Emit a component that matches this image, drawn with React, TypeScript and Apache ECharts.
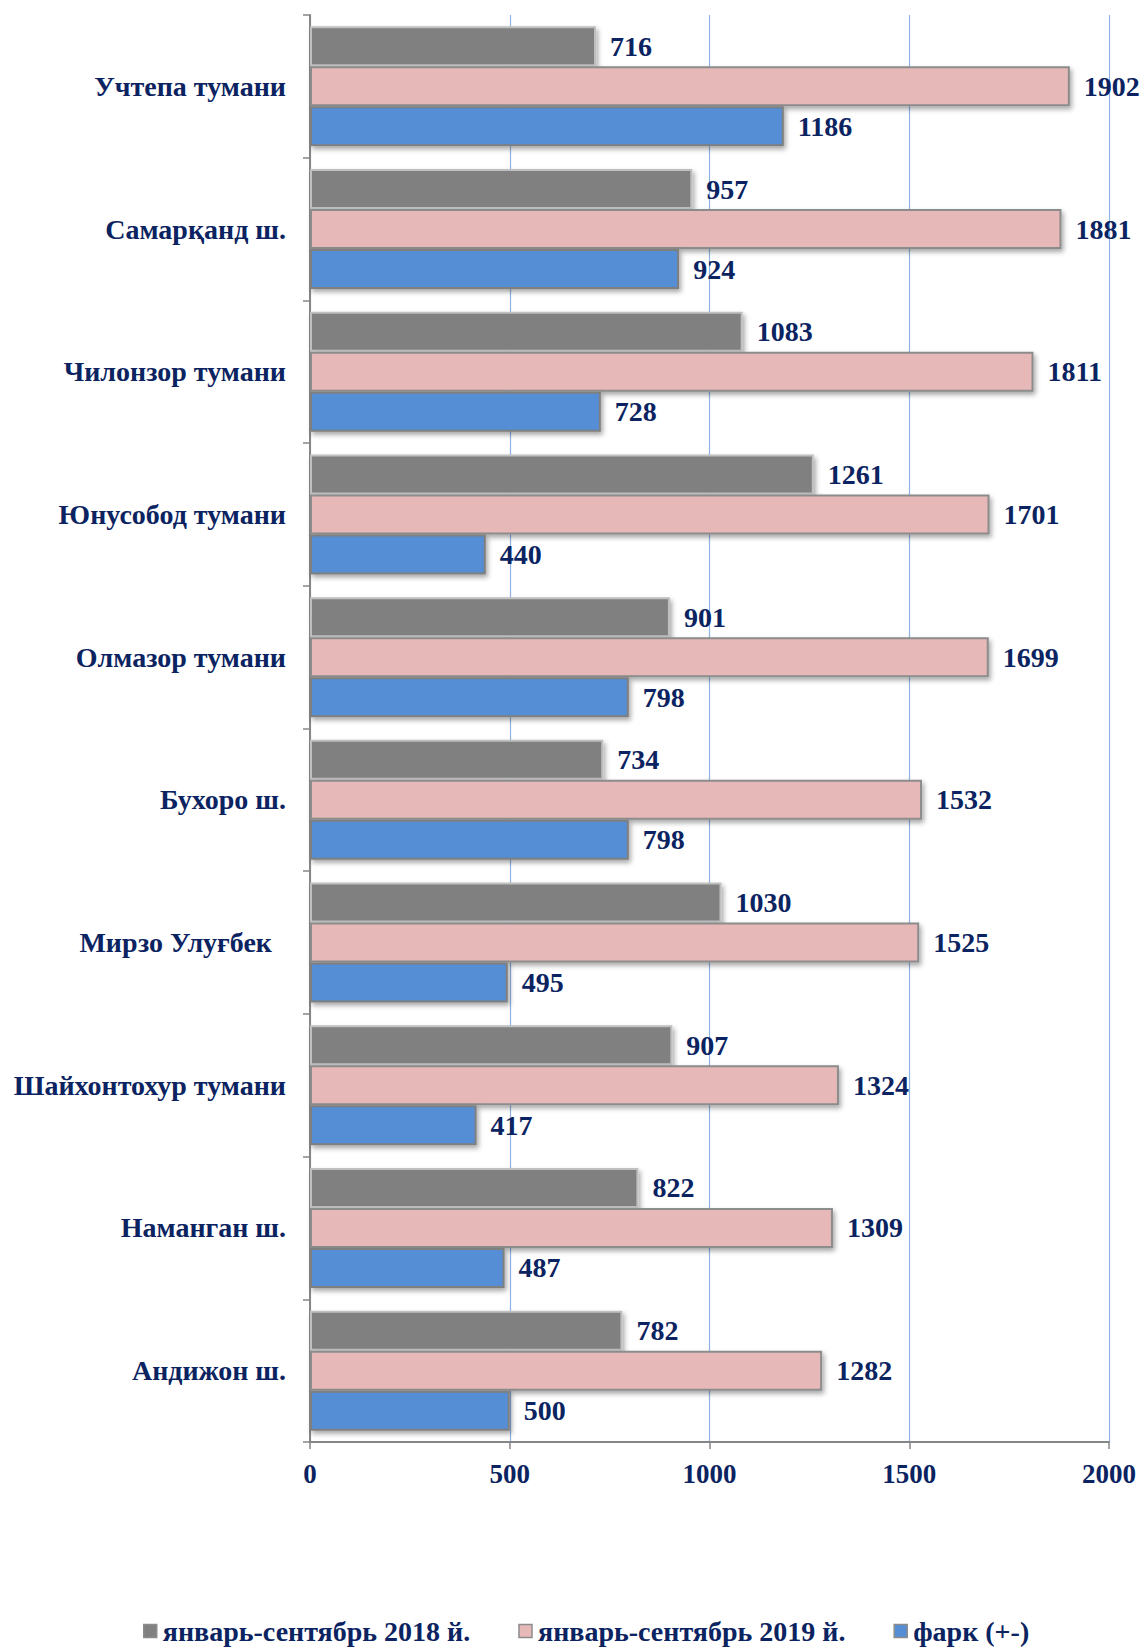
import React, { useEffect, useRef } from "react";
import * as echarts from "echarts";

const categories = [
  "Учтепа тумани",
  "Самарқанд ш.",
  "Чилонзор тумани",
  "Юнусобод тумани",
  "Олмазор тумани",
  "Бухоро ш.",
  "Мирзо Улуғбек\u00a0\u00a0",
  "Шайхонтохур тумани",
  "Наманган ш.",
  "Андижон ш.",
];
const seriesNames = ["январь-сентябрь 2018 й.", "январь-сентябрь 2019 й.", "фарк (+-)"];
const values2018 = [716, 957, 1083, 1261, 901, 734, 1030, 907, 822, 782];
const values2019 = [1902, 1881, 1811, 1701, 1699, 1532, 1525, 1324, 1309, 1282];
const valuesDiff = [1186, 924, 728, 440, 798, 798, 495, 417, 487, 500];
const xTicks = { min: 0, max: 2000, interval: 500 };

const NAVY = "#0B2461";
const FONT = "'Liberation Serif', 'Times New Roman', serif";

export default function App() {
  const ref = useRef<HTMLDivElement>(null);
  useEffect(() => {
    if (!ref.current) return;
    const chart = echarts.init(ref.current, null, { renderer: "svg" });
    const colors = ["#808080", "#E6B8B7", "#558ED5"];
    const borders = ["#BFBFBF", "#8C8C8C", "#7F7F7F"];
    const data = [values2018, values2019, valuesDiff];
    chart.setOption({
      animation: false,
      textStyle: { fontFamily: FONT },
      grid: { left: 310, right: 37, top: 15, bottom: 208, containLabel: false },
      legend: {
        bottom: 0,
        left: 138,
        itemWidth: 13,
        itemHeight: 13,
        itemGap: 48,
        icon: "rect",
        textStyle: { fontFamily: FONT, fontWeight: "bold", fontSize: 28, color: NAVY, padding: [0, 0, 0, 1] },
        data: seriesNames.map((n, i) => ({
          name: n,
          itemStyle: { color: colors[i], borderColor: "#8C8C8C", borderWidth: 1.5, shadowBlur: 0, shadowOffsetX: 0, shadowOffsetY: 0 },
        })),
      },
      xAxis: {
        type: "value",
        min: xTicks.min,
        max: xTicks.max,
        interval: xTicks.interval,
        axisLine: { show: true, lineStyle: { color: "#868686", width: 2 } },
        axisTick: { show: true, length: 7, lineStyle: { color: "#868686", width: 1.5 } },
        splitLine: { show: true, lineStyle: { color: "#8EB4E3", width: 1.2 } },
        axisLabel: {
          fontFamily: FONT,
          fontWeight: "bold",
          fontSize: 27,
          color: NAVY,
          margin: 18,
          formatter: (v: number) => String(v),
        },
      },
      yAxis: {
        type: "category",
        inverse: true,
        data: categories,
        axisLine: { show: true, lineStyle: { color: "#868686", width: 2 } },
        axisTick: { show: true, length: 7, lineStyle: { color: "#868686", width: 1.5 } },
        axisLabel: { fontFamily: FONT, fontWeight: "bold", fontSize: 28, color: NAVY, margin: 24 },
        splitLine: { show: false },
      },
      series: data.map((d, i) => ({
        name: seriesNames[i],
        type: "bar",
        data: d,
        barWidth: 40,
        barGap: "0%",
        barCategoryGap: "15%",
        itemStyle: {
          color: colors[i],
          borderColor: borders[i],
          borderWidth: 2,
          shadowColor: "rgba(0,0,0,0.35)",
          shadowBlur: 5,
          shadowOffsetX: 2,
          shadowOffsetY: 3,
        },
        label: {
          show: true,
          position: "right",
          distance: 14,
          fontFamily: FONT,
          fontWeight: "bold",
          fontSize: 28,
          color: NAVY,
        },
      })),
    });
    return () => chart.dispose();
  }, []);
  return (
    <div
      ref={ref}
      style={{ position: "absolute", left: 0, top: 0, width: 1146, height: 1650 }}
    />
  );
}
